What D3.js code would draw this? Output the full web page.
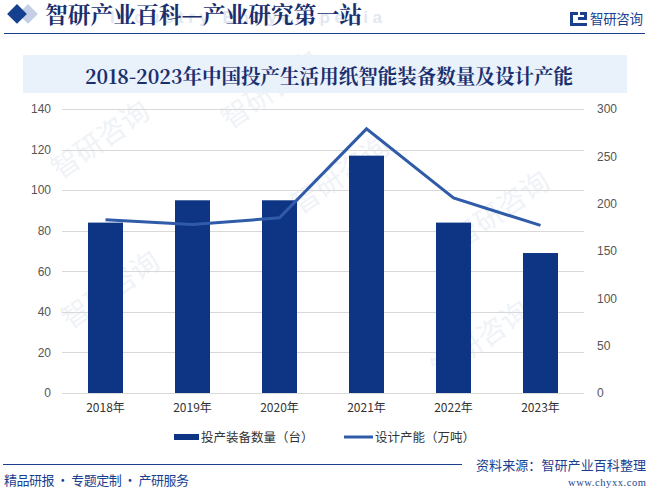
<!DOCTYPE html>
<html><head><meta charset="utf-8">
<script src="https://cdn.jsdelivr.net/npm/d3@7"></script>
<style>body{margin:0;background:#fff;}svg{display:block;}</style>
</head><body>
<script>
const categories = ["2018年","2019年","2020年","2021年","2022年","2023年"];
const equipmentCount = [84, 95, 95, 117, 84, 69];
const designCapacity = [183, 178, 185, 279, 206, 177];
const leftTicks = [0,20,40,60,80,100,120,140];
const rightTicks = [0,50,100,150,200,250,300];
const seriesNames = ["投产装备数量（台）","设计产能（万吨）"];
const chartTitle = "2018-2023年中国投产生活用纸智能装备数量及设计产能";

const W = 649, H = 492;
const svg = d3.select("body").append("svg").attr("width", W).attr("height", H);
const cjk = "'Noto Sans CJK SC', 'Noto Sans', sans-serif";
const serifCjk = "'Noto Serif CJK SC', 'Noto Sans CJK SC', serif";

// watermarks
const wm = svg.append("g").attr("fill", "#eff3f8").attr("font-family", cjk).attr("font-size", 28);
[[70,330],[300,215],[440,380],[230,130],[60,180],[460,250]].forEach(([x,y])=>{
  wm.append("text").attr("transform", `translate(${x},${y}) rotate(-35)`).text("智研咨询");
});

// header
const hd = svg.append("g");
hd.append("rect").attr("x",0).attr("y",0).attr("width",14).attr("height",14).attr("fill","#c5d0e6")
  .attr("transform","translate(28,4) rotate(45)");
hd.append("rect").attr("x",0).attr("y",0).attr("width",14).attr("height",14).attr("fill","#14408f")
  .attr("transform","translate(17,4) rotate(45)");
hd.append("text").attr("x",110).attr("y",23).attr("fill","#e2e8f2").attr("font-family","Arial, sans-serif")
  .attr("font-size",17).attr("font-weight","bold").attr("textLength",272).attr("lengthAdjust","spacing")
  .text("Industry Encyclopedia");
hd.append("text").attr("x",45).attr("y",23).attr("fill","#1a2f6e").attr("font-family",serifCjk)
  .attr("font-size",22.5).attr("font-weight","bold").attr("textLength",317).attr("lengthAdjust","spacingAndGlyphs")
  .text("智研产业百科—产业研究第一站");
hd.append("line").attr("x1",4).attr("x2",645).attr("y1",33.5).attr("y2",33.5).attr("stroke","#1a3f8f").attr("stroke-width",1.2);
// logo
const lg = hd.append("g").attr("fill","#1a3f8f");
lg.append("rect").attr("x",570).attr("y",12).attr("width",8).attr("height",3);
lg.append("rect").attr("x",570).attr("y",12).attr("width",3).attr("height",14);
lg.append("rect").attr("x",570).attr("y",23).attr("width",17).attr("height",3);
lg.append("rect").attr("x",580).attr("y",12).attr("width",7).attr("height",3);
lg.append("rect").attr("x",584).attr("y",12).attr("width",3).attr("height",8);
lg.append("rect").attr("x",578).attr("y",17).attr("width",9).attr("height",3);
hd.append("text").attr("x",590).attr("y",24).attr("fill","#1a3f8f").attr("font-family",cjk)
  .attr("font-size",13.5).attr("textLength",53).text("智研咨询");

// title box
svg.append("rect").attr("x",23).attr("y",55).attr("width",604).attr("height",38).attr("fill","#e9f1fb");
svg.append("text").attr("x",85).attr("y",84).attr("fill","#1a2f6e")
  .attr("font-family",serifCjk).attr("font-size",20).attr("font-weight","bold")
  .attr("textLength",488).attr("lengthAdjust","spacingAndGlyphs").text(chartTitle);

// scales
const x = d3.scaleBand().domain(categories).range([62,584]).paddingInner(0.6).paddingOuter(0.3);
const yL = d3.scaleLinear().domain([0,140]).range([393,109]);
const yR = d3.scaleLinear().domain([0,300]).range([393,109]);

// grid
svg.append("g").selectAll("line").data(leftTicks).join("line")
  .attr("x1",62).attr("x2",584).attr("y1",d=>Math.round(yL(d))+0.5).attr("y2",d=>Math.round(yL(d))+0.5)
  .attr("stroke","#d9d9d9").attr("stroke-width",1);

// axes
const axL = svg.append("g").attr("transform","translate(62,0)")
  .call(d3.axisLeft(yL).tickValues(leftTicks).tickSize(0).tickPadding(11));
axL.select(".domain").remove();
axL.selectAll("text").attr("font-family","Arial, 'Liberation Sans', sans-serif").attr("font-size",12).attr("fill","#555");
const axR = svg.append("g").attr("transform","translate(584,0)")
  .call(d3.axisRight(yR).tickValues(rightTicks).tickSize(0).tickPadding(13));
axR.select(".domain").remove();
axR.selectAll("text").attr("font-family","Arial, 'Liberation Sans', sans-serif").attr("font-size",12).attr("fill","#555");
const axB = svg.append("g").attr("transform","translate(0,393)")
  .call(d3.axisBottom(x).tickSize(0).tickPadding(10));
axB.select(".domain").remove();
axB.selectAll("text").attr("font-family",cjk).attr("font-size",12).attr("fill","#333");

// bars
const bw = 35;
svg.append("g").selectAll("rect").data(categories).join("rect")
  .attr("x",d=>x(d)+x.bandwidth()/2-bw/2).attr("width",bw)
  .attr("y",(d,i)=>yL(equipmentCount[i])).attr("height",(d,i)=>yL(0)-yL(equipmentCount[i]))
  .attr("fill","#0e3583");

// line
const line = d3.line().x((d,i)=>x(categories[i])+x.bandwidth()/2).y(d=>yR(d));
svg.append("path").datum(designCapacity).attr("d",line).attr("fill","none")
  .attr("stroke","#2f5ba8").attr("stroke-width",3).attr("stroke-linejoin","miter");

// legend
const leg = svg.append("g");
leg.append("rect").attr("x",174).attr("y",434).attr("width",25).attr("height",6).attr("fill","#0e3583");
leg.append("text").attr("x",201).attr("y",442).attr("font-family",cjk).attr("font-size",12.5).attr("fill","#333").text(seriesNames[0]);
leg.append("line").attr("x1",344).attr("x2",373).attr("y1",437).attr("y2",437).attr("stroke","#2f5ba8").attr("stroke-width",3);
leg.append("text").attr("x",375).attr("y",442).attr("font-family",cjk).attr("font-size",12.5).attr("fill","#333").text(seriesNames[1]);

// footer
svg.append("line").attr("x1",3).attr("x2",462).attr("y1",464.5).attr("y2",464.5).attr("stroke","#1a3f8f").attr("stroke-width",1);
svg.append("text").attr("x",646).attr("y",470).attr("text-anchor","end").attr("font-family",cjk)
  .attr("font-size",13).attr("fill","#1a3f8f").attr("textLength",170).text("资料来源：智研产业百科整理");
svg.append("text").attr("x",646).attr("y",486).attr("text-anchor","end").attr("font-family","'Liberation Serif', serif")
  .attr("font-size",10.5).attr("fill","#1a3f8f").attr("textLength",78).text("www.chyxx.com");
svg.append("text").attr("x",4).attr("y",485).attr("font-family",cjk)
  .attr("font-size",13).attr("fill","#1a3f8f").attr("textLength",185).text("精品研报 · 专题定制 · 产研服务");
</script>
</body></html>
